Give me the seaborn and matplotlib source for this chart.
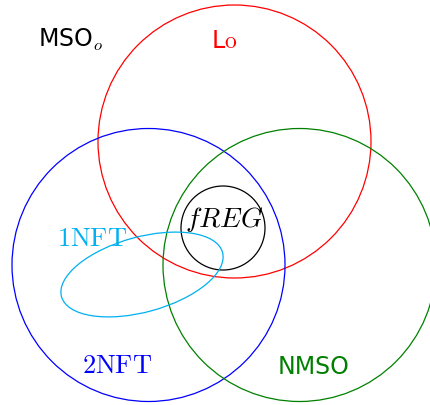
import seaborn as sns
import matplotlib.pyplot as plt
from matplotlib.patches import Circle, Ellipse

# circles (pixel-like coordinates, y grows downward)
circle_names = ['Lo', '2NFT', 'NMSO', 'fREG']
circle_x = [234.5, 148.5, 299.5, 223]
circle_y = [141.5, 265, 265, 228]
circle_r = [136.5, 136.5, 136.5, 42]
circle_colors = ['red', 'blue', 'green', 'black']

# the tilted 1NFT ellipse
ell_center = (142, 274.5)
ell_width = 167
ell_height = 75
ell_angle = 15.4

# labels
label_text = [r'MSO$_o$', r'L$\mathrm{o}$', r'$fREG$', r'$\mathrm{1NFT}$',
              r'$\mathrm{2NFT}$', 'NMSO']
label_x = [38, 224, 224, 92.5, 117, 314]
label_y = [47, 48, 227, 246, 373, 374]
label_ha = ['left', 'center', 'center', 'center', 'center', 'center']
label_colors = ['black', 'red', 'black', '#00b0f0', 'blue', 'green']
label_sizes = [17, 17, 20, 19, 19, 17]

sns.set_theme(style='white')
plt.rcParams['mathtext.fontset'] = 'cm'
plt.rcParams['font.family'] = ['DejaVu Sans']

fig = plt.figure(figsize=(4.3, 4.05), dpi=100)
ax = fig.add_axes([0, 0, 1, 1])

for x, y, r, c in zip(circle_x, circle_y, circle_r, circle_colors):
    ax.add_patch(Circle((x, y), r, fill=False, edgecolor=c, linewidth=0.9))

ax.add_patch(Ellipse(ell_center, ell_width, ell_height, angle=-ell_angle,
                     fill=False, edgecolor='#00b0f0', linewidth=0.9))

for t, x, y, ha, c, s in zip(label_text, label_x, label_y, label_ha,
                             label_colors, label_sizes):
    ax.text(x, y, t, ha=ha, va='baseline', color=c, fontsize=s)

ax.set_xlim(0, 430)
ax.set_ylim(405, 0)
ax.set_aspect('equal')
ax.axis('off')

plt.savefig('out.png', dpi=100)
